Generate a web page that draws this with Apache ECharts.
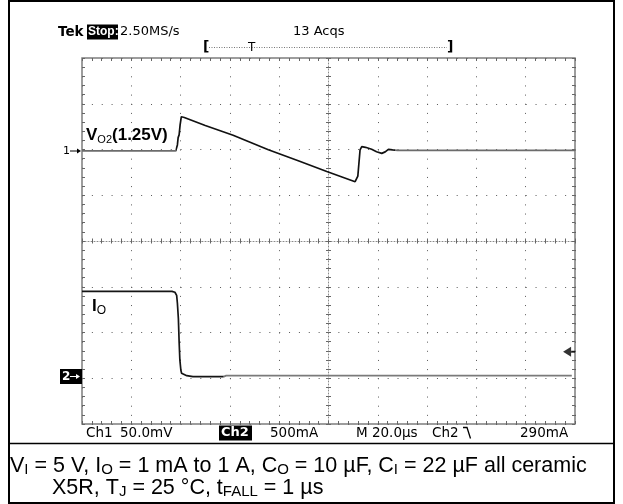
<!DOCTYPE html>
<html>
<head>
<meta charset="utf-8">
<script src="https://cdn.jsdelivr.net/npm/echarts@6/dist/echarts.min.js"></script>
<style>
html, body { margin: 0; padding: 0; background: #fff; }
#scope { width: 623px; height: 504px; }
</style>
</head>
<body>
<div id="scope"></div>
<script>
// Horizontal: 20 µs/div over 10 divisions, trigger at centre
const timeMin = -100, timeMax = 100, timeStep = 20;
// Ch1: V_O2 deviation from 1.25 V, 50 mV/div, ground marker 2 div above centre
const ch1Min = -300, ch1Max = 100, ch1Step = 50;
// Ch2: output current, 500 mA/div, ground marker 3 div below centre
const ch2Min = -500, ch2Max = 3500, ch2Step = 500;

// Ch1 trace: time (µs) and deviation (mV)
const vTime = [-100, -62, -61.6, -61.3, -61.0, -60.6, -60.2, -59.7, -58.5, -50, -38.7, -24.4, -12, -0.7, 10.8, 11.9, 12.8, 13.5, 15, 17.5, 19.5, 21.6, 23, 24.3, 26, 28, 100];
const vMv   = [-1.6, -1.6, 0, 5, 13, 16, 27, 35.8, 35, 26.2, 15.6, -0.3, -12.6, -24, -35.2, -29, -0.5, 3.1, 2.4, 0.2, -2.4, -4.2, -2.6, 0.2, -0.5, -0.9, -0.9];

// Ch2 trace: time (µs) and load current (mA)
const iTime = [-100, -63.5, -62.3, -61.6, -61.3, -60.9, -60.6, -60.3, -59.9, -59.6, -57.5, -55, -42.5, -41.5, 98.7];
const iMa   = [950, 950, 940, 905, 820, 650, 400, 200, 90, 54, 28, 17, 17, 28, 28];
// index where the settled (averaged, grey) part of Ch2 begins
const iSettled = 12;

// Ch2 falling-edge trigger level
const trigTime = 97.6;
const trigLevel = 290;

const GRID = { left: 82, top: 58, width: 493, height: 366 };
const tickCol = '#666';
const dotCol = '#5a5a5a';

function xAxisDef(position, offset, opts) {
  return {
    type: 'value', min: timeMin, max: timeMax, interval: timeStep,
    position: position, offset: offset,
    axisLabel: { show: false },
    axisLine: opts.line ? { show: true, onZero: false, lineStyle: { color: '#8a8a8a', width: 1, type: [1, 2] } } : { show: false, onZero: false },
    axisTick: { show: true, inside: true, length: opts.len, lineStyle: { color: tickCol, width: 1 } },
    minorTick: { show: true, splitNumber: 5, length: opts.len, lineStyle: { color: tickCol, width: 1 } },
    splitLine: opts.split ? { show: true, lineStyle: { color: dotCol, width: 1, type: [1, 8.15] } } : { show: false }
  };
}
function yAxisDef(min, max, step, position, offset, opts) {
  return {
    type: 'value', min: min, max: max, interval: step,
    position: position, offset: offset,
    axisLabel: { show: false },
    axisLine: opts.line ? { show: true, onZero: false, lineStyle: { color: '#8a8a8a', width: 1, type: [1, 2] } } : { show: false, onZero: false },
    axisTick: { show: true, inside: true, length: opts.len, lineStyle: { color: tickCol, width: 1 } },
    minorTick: { show: true, splitNumber: 5, length: opts.len, lineStyle: { color: tickCol, width: 1 } },
    splitLine: opts.split ? { show: true, lineStyle: { color: dotCol, width: 1, type: [1, 8.86] } } : { show: false }
  };
}

const halfH = GRID.height / 2, halfW = GRID.width / 2;

function txt(x, y, text, font, extra) {
  return {
    type: 'text', x: x, y: y, silent: true, z: 20,
    style: Object.assign({ text: text, font: font, fill: '#000', textAlign: 'left', textVerticalAlign: 'middle' }, extra || {})
  };
}
function box(x, y, w, h) {
  return { type: 'rect', silent: true, z: 19, shape: { x: x, y: y, width: w, height: h }, style: { fill: '#000' } };
}
function seg(x1, y1, x2, y2, w, extra) {
  return { type: 'line', silent: true, z: 20, shape: { x1: x1, y1: y1, x2: x2, y2: y2 }, style: Object.assign({ stroke: '#000', lineWidth: w }, extra || {}) };
}

const hdrFont = '13px "DejaVu Sans"';
const stFont = '13.5px "DejaVu Sans"';
const sy = 433;

const graphics = [
  // page frame
  seg(8, 1, 615, 1, 2), seg(9, 0, 9, 504, 2), seg(614, 0, 614, 504, 2),
  seg(8, 443.5, 615, 443.5, 1.5), seg(8, 503, 615, 503, 2),
  // acquisition header
  txt(58, 32, 'Tek', 'bold 13.5px "DejaVu Sans"'),
  box(87, 24.5, 31, 15),
  txt(88, 32, 'Stop:', 'bold 12px "Liberation Sans"', { fill: '#fff' }),
  txt(120, 32, '2.50MS/s', hdrFont),
  txt(293, 32, '13 Acqs', hdrFont),
  // record-position bracket
  txt(203, 47, '[', 'bold 14px "DejaVu Sans"'),
  txt(447, 47, ']', 'bold 14px "DejaVu Sans"'),
  seg(209, 47.5, 447, 47.5, 1, { stroke: '#777', lineDash: [1, 1.5] }),
  txt(248, 48, 'T', '12px "DejaVu Sans"'),
  // channel ground markers
  txt(63, 151, '1', '11px "DejaVu Sans"'),
  seg(70, 151, 78, 151, 1),
  { type: 'polygon', silent: true, z: 20, shape: { points: [[77, 148.5], [81, 151], [77, 153.5]] }, style: { fill: '#000' } },
  box(60, 369, 22, 15),
  txt(62, 376.5, '2', 'bold 12px "DejaVu Sans"', { fill: '#fff' }),
  seg(70, 376.5, 77, 376.5, 1, { stroke: '#fff' }),
  { type: 'polygon', silent: true, z: 21, shape: { points: [[76, 374], [80, 376.5], [76, 379]] }, style: { fill: '#fff' } },
  // status line
  txt(86, sy, 'Ch1', stFont),
  txt(120, sy, '50.0mV', stFont),
  box(219, 425.5, 33, 15),
  txt(221, sy, 'Ch2', 'bold 13px "DejaVu Sans"', { fill: '#fff' }),
  txt(270, sy, '500mA', stFont),
  txt(356, sy, 'M 20.0µs', stFont),
  txt(432, sy, 'Ch2', stFont),
  { type: 'polyline', silent: true, z: 20, shape: { points: [[463, 427.5], [467, 427.5], [470.5, 438.5]] }, style: { stroke: '#000', lineWidth: 1.3, fill: null } },
  txt(520, sy, '290mA', stFont)
];

const capMain = { fontFamily: '"Liberation Sans", Arial', fontWeight: 'normal', fontSize: 21.5, color: '#000', lineHeight: 22 };
const capSub = { fontFamily: '"Liberation Sans", Arial', fontWeight: 'normal', fontSize: 15, color: '#000', lineHeight: 14, verticalAlign: 'bottom' };
const lblBold = { fontFamily: '"Liberation Sans", Arial', fontWeight: 'bold', fontSize: 17, lineHeight: 20, color: '#000' };

const option = {
  animation: false,
  backgroundColor: '#fff',
  grid: Object.assign({ show: true, borderColor: '#7d7d7d', borderWidth: 1.5, backgroundColor: 'transparent', containLabel: false, outerBoundsMode: 'none' }, GRID),
  title: [
    {
      left: 86, top: 125, padding: 0,
      text: '{b|V}{s|O2}{b|(1.25V)}',
      textStyle: { fontWeight: 'normal', rich: {
        b: lblBold,
        s: { fontFamily: '"Liberation Sans", Arial', fontWeight: 'normal', fontSize: 11, lineHeight: 14, verticalAlign: 'bottom', color: '#000' }
      } }
    },
    {
      left: 92, top: 296.5, padding: 0,
      text: '{b|I}{s|O}',
      textStyle: { fontWeight: 'normal', rich: {
        b: lblBold,
        s: { fontFamily: '"Liberation Sans", Arial', fontWeight: 'normal', fontSize: 12, lineHeight: 13, verticalAlign: 'bottom', color: '#000' }
      } }
    },
    {
      left: 10, top: 455, padding: 0,
      text: '{m|V}{s|I}{m| = 5 V, I}{s|O}{m| = 1 mA to 1 A, C}{s|O}{m| = 10 µF, C}{s|I}{m| = 22 µF all ceramic}',
      textStyle: { fontWeight: 'normal', rich: { m: capMain, s: capSub } }
    },
    {
      left: 52, top: 477, padding: 0,
      text: '{m|X5R, T}{s|J}{m| = 25 °C, t}{s|FALL}{m| = 1 µs}',
      textStyle: { fontWeight: 'normal', rich: { m: capMain, s: capSub } }
    }
  ],
  xAxis: [
    xAxisDef('bottom', 0, { len: 3, split: true }),
    xAxisDef('top', 0, { len: 3 }),
    xAxisDef('bottom', -halfH, { len: 2.5, line: true }),
    xAxisDef('top', -halfH, { len: 2.5 })
  ],
  yAxis: [
    yAxisDef(ch1Min, ch1Max, ch1Step, 'left', 0, { len: 3, split: true }),
    yAxisDef(ch2Min, ch2Max, ch2Step, 'right', 0, { len: 3 }),
    yAxisDef(ch1Min, ch1Max, ch1Step, 'left', -halfW, { len: 2.5, line: true }),
    yAxisDef(ch1Min, ch1Max, ch1Step, 'right', -halfW, { len: 2.5 })
  ],
  visualMap: [
    { type: 'piecewise', show: false, seriesIndex: 0, dimension: 0,
      pieces: [{ lt: -62, color: '#6c6c6c' }, { gte: -62, lt: 27, color: '#111' }, { gte: 27, color: '#6c6c6c' }] }
  ],
  series: [
    {
      name: 'V_O2', type: 'line', xAxisIndex: 0, yAxisIndex: 0,
      data: vTime.map((t, i) => [t, vMv[i]]),
      showSymbol: false, symbol: 'none', z: 5,
      lineStyle: { width: 1.7 }
    },
    {
      name: 'I_O', type: 'line', xAxisIndex: 0, yAxisIndex: 1,
      data: iTime.slice(0, iSettled + 1).map((t, i) => [t, iMa[i]]),
      showSymbol: false, symbol: 'none', z: 5,
      lineStyle: { width: 1.7, color: '#151515' }
    },
    {
      name: 'I_O settled', type: 'line', xAxisIndex: 0, yAxisIndex: 1,
      data: iTime.slice(iSettled).map((t, i) => [t, iMa[i + iSettled]]),
      showSymbol: false, symbol: 'none', z: 5,
      lineStyle: { width: 1.8, color: '#7a7a7a' }
    },
    {
      name: 'Trigger', type: 'scatter', xAxisIndex: 0, yAxisIndex: 1,
      data: [[trigTime, trigLevel]],
      symbol: 'path://M0,5 L8,0 L8,10 Z M8,4 L12,4 L12,6 L8,6 Z',
      symbolSize: [12, 10], itemStyle: { color: '#000' }, silent: true, z: 6
    }
  ],
  graphic: graphics
};

const chart = echarts.init(document.getElementById('scope'), null, { renderer: 'canvas' });
chart.setOption(option);
</script>
</body>
</html>
